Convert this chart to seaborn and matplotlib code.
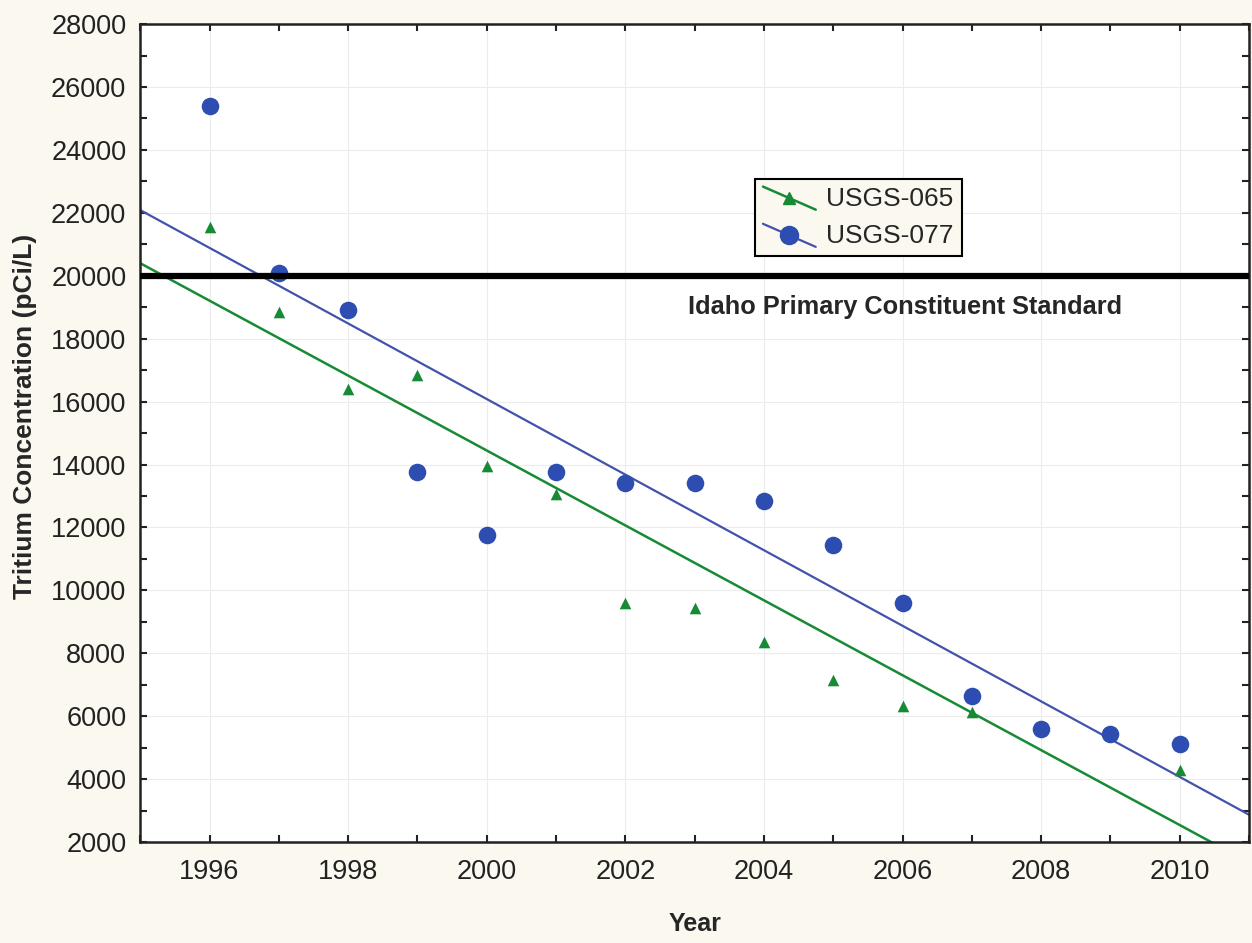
import matplotlib
matplotlib.use("Agg")
import matplotlib.pyplot as plt
import pandas as pd
import seaborn as sns
from matplotlib.lines import Line2D
from matplotlib.legend_handler import HandlerBase
from matplotlib.ticker import MultipleLocator

# Data
years = list(range(1996, 2011))
usgs_065 = [21550, 18850, 16400, 16850, 13950, 13050, 9600, 9450, 8350, 7150, 6330, 6120, 5700, 5500, 4280]
usgs_077 = [25400, 20100, 18900, 13750, 11750, 13750, 13400, 13400, 12850, 11450, 9600, 6650, 5600, 5450, 5130]
standard = 20000
standard_label = "Idaho Primary Constituent Standard"

df = pd.DataFrame({"Year": years, "USGS-065": usgs_065, "USGS-077": usgs_077})

green = "#178a36"
blue = "#2d4db0"
blue_line = "#4352aa"
bg = "#fbf8f0"

sns.set_style("ticks")
plt.rcParams["font.family"] = ["Liberation Sans", "DejaVu Sans"]


class SlantHandler(HandlerBase):
    # legend key drawn as a slanted line with the marker in the middle
    def create_artists(self, legend, orig_handle, xdescent, ydescent, width, height, fontsize, trans):
        x0, x1 = -xdescent, -xdescent + width
        y0, y1 = -ydescent + height * 1.05, -ydescent - height * 0.2
        line = Line2D([x0, x1], [y0, y1], color=orig_handle.get_color(), lw=orig_handle.get_linewidth())
        mk = Line2D([(x0 + x1) / 2], [(y0 + y1) / 2], marker=orig_handle.get_marker(),
                    markersize=orig_handle.get_markersize(), color=orig_handle.get_markerfacecolor(),
                    linestyle="none")
        line.set_transform(trans)
        mk.set_transform(trans)
        return [line, mk]


fig = plt.figure(figsize=(12.52, 9.43), dpi=100, facecolor=bg)
ax = fig.add_axes([0.112, 0.107, 0.8856, 0.8675])
ax.set_facecolor("white")
ax.set_xlim(1995, 2011)
ax.set_ylim(2000, 28000)

# regression lines extend across the whole x range like the original
sns.regplot(data=df, x="Year", y="USGS-065", ax=ax, ci=None, truncate=False, marker="^",
            scatter_kws={"s": 70, "color": green, "alpha": 1, "linewidths": 0, "zorder": 3},
            line_kws={"color": green, "lw": 1.8, "zorder": 2})
sns.regplot(data=df, x="Year", y="USGS-077", ax=ax, ci=None, truncate=False, marker="o",
            scatter_kws={"s": 160, "color": blue, "alpha": 1, "linewidths": 0, "zorder": 4},
            line_kws={"color": blue_line, "lw": 1.6, "zorder": 2})

ax.axhline(standard, color="black", lw=4.5, zorder=5)
ax.text(2002.9, standard - 1000, standard_label, fontsize=18.3, fontweight="bold", va="center", ha="left")

ax.set_xlim(1995, 2011)
ax.set_ylim(2000, 28000)
ax.xaxis.set_major_locator(MultipleLocator(2))
ax.xaxis.set_minor_locator(MultipleLocator(1))
ax.yaxis.set_major_locator(MultipleLocator(2000))
ax.yaxis.set_minor_locator(MultipleLocator(1000))
ax.tick_params(which="both", direction="in", top=True, right=True, length=5, width=1.5, color="#222222")
ax.tick_params(which="major", labelsize=19.5, labelcolor="#222222")
ax.tick_params(axis="x", which="major", pad=12)
ax.tick_params(axis="y", which="major", pad=10)
ax.grid(True, which="major", color="#ececec", lw=0.8)
for sp in ax.spines.values():
    sp.set_visible(True)
    sp.set_linewidth(1.8)
    sp.set_color("#222222")

ax.set_xlabel("Year", fontsize=18, fontweight="bold")
ax.set_ylabel("Tritium Concentration (pCi/L)", fontsize=19, fontweight="bold")
ax.xaxis.set_label_coords(0.5, -0.085)
ax.yaxis.set_label_coords(-0.093, 0.52)

handles = [Line2D([], [], color=green, lw=1.8, marker="^", markersize=8, markerfacecolor=green),
           Line2D([], [], color=blue_line, lw=1.6, marker="o", markersize=13, markerfacecolor=blue)]
leg = ax.legend(handles, ["USGS-065", "USGS-077"], handler_map={Line2D: SlantHandler()},
                loc="upper left", bbox_to_anchor=(0.5545, 0.8105), borderaxespad=0,
                fontsize=19, fancybox=False, framealpha=1, facecolor=bg, edgecolor="black",
                handlelength=2.0, handletextpad=0.4, borderpad=0.3, labelspacing=0.5)
leg.get_frame().set_linewidth(1.5)
leg.set_zorder(6)

fig.savefig("out.png", dpi=100, facecolor=bg)
